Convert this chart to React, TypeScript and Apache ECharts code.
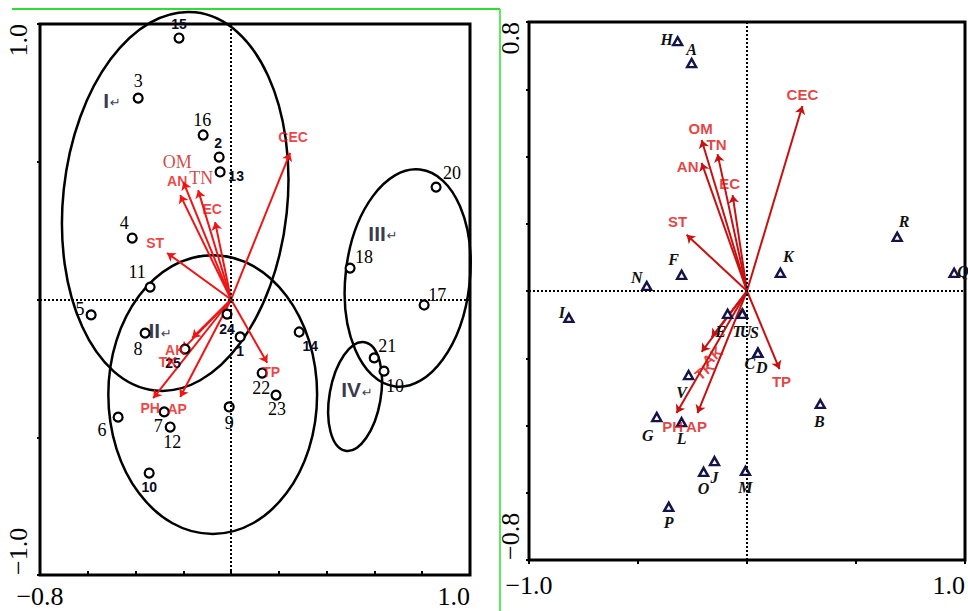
import React, { useEffect, useRef } from 'react';
import * as echarts from 'echarts';

// ---------- Left panel (sites) ----------
const siteNames = ['1', '2', '3', '4', '5', '6', '7', '8', '9', '10', '11', '12', '13', '14', '15', '16', '17', '18', '19', '20', '21', '22', '23', '24', '25'];
const siteLabels = ['1', '2', '3', '4', '5', '6', '7', '8', '9', '10', '11', '12', '13', '14', '15', '16', '17', '18', '10', '20', '21', '22', '23', '24', '25'];
const siteX = [0.038, -0.05, -0.389, -0.414, -0.586, -0.473, -0.28, -0.36, -0.008, -0.343, -0.339, -0.255, -0.046, 0.285, -0.218, -0.117, 0.808, 0.498, 0.64, 0.858, 0.599, 0.13, 0.188, -0.017, -0.193];
const siteY = [-0.136, 0.517, 0.731, 0.223, -0.056, -0.427, -0.408, -0.122, -0.39, -0.63, 0.045, -0.463, 0.463, -0.118, 0.949, 0.597, -0.02, 0.114, -0.26, 0.408, -0.212, -0.267, -0.347, -0.053, -0.18];
const boldSites = ['1', '2', '10', '13', '14', '15', '24', '25'];

const envNames = ['CEC', 'EC', 'TN', 'AN', 'OM', 'ST', 'TP', 'PH', 'AP', 'AK', 'TK'];
const envXLeft = [0.247, -0.067, -0.138, -0.213, -0.2, -0.268, 0.151, -0.326, -0.213, -0.163, -0.205];
const envYLeft = [0.532, 0.281, 0.397, 0.379, 0.427, 0.169, -0.23, -0.358, -0.354, -0.14, -0.183];

const groupNames = ['I', 'II', 'III', 'IV'];
const groupLabelX = [-0.498, -0.297, 0.636, 0.527];
const groupLabelY = [0.724, -0.114, 0.241, -0.328];
const ellipseCX = [-0.234, -0.077, 0.739, 0.519];
const ellipseCY = [0.356, -0.345, 0.078, -0.352];
const ellipseRX = [0.469, 0.437, 0.26, 0.107];
const ellipseRY = [0.69, 0.506, 0.396, 0.2];
const ellipseTilt = [6, 0, 6.5, 10];

// ---------- Right panel (samples) ----------
const sampleNames = ['A', 'B', 'C', 'D', 'E', 'F', 'G', 'H', 'I', 'J', 'K', 'L', 'M', 'N', 'O', 'P', 'Q', 'R', 'S', 'T', 'U', 'V'];
const sampleX = [-0.254, 0.336, 0.05, 0.05, -0.089, -0.3, -0.414, -0.318, -0.817, -0.149, 0.153, -0.3, -0.007, -0.46, -0.199, -0.359, 0.95, 0.689, -0.021, -0.021, -0.021, -0.268];
const sampleY = [0.678, -0.336, -0.184, -0.184, -0.068, 0.048, -0.375, 0.743, -0.08, -0.506, 0.054, -0.39, -0.535, 0.015, -0.538, -0.642, 0.054, 0.161, -0.068, -0.068, -0.068, -0.25];
const envXRight = [0.254, -0.066, -0.135, -0.208, -0.208, -0.277, 0.149, -0.323, -0.227, -0.162, -0.208];
const envYRight = [0.55, 0.285, 0.407, 0.381, 0.449, 0.167, -0.232, -0.363, -0.363, -0.137, -0.181];

// axis tick labels
const leftXLabels = ['−0.8', '1.0'];
const leftYLabels = ['−1.0', '1.0'];
const rightXLabels = ['−1.0', '1.0'];
const rightYLabels = ['−0.8', '0.8'];

// ---------- styling (pixel offsets of labels) ----------
const siteLabelOffset: Record<string, [number, number]> = {
  '1': [0, 14], '2': [-1, -14], '3': [0, -17], '4': [-8, -15], '5': [-11, -6], '6': [-16, 13], '7': [-6, 14],
  '8': [-7, 16], '9': [0, 16], '10': [0, 14], '11': [-13, -15], '12': [2, 15], '13': [16, 4], '14': [11, 14],
  '15': [0, -14], '16': [-1, -15], '17': [13, -10], '18': [14, -11], '19': [11, 15], '20': [16, -14],
  '21': [13, -12], '22': [-1, 15], '23': [1, 14], '24': [0, 15], '25': [-12, 14],
};
const envLeftOffset: Record<string, [number, number]> = {
  CEC: [3, -16], EC: [-3, -13], TN: [3, -12], AN: [-3, -14], OM: [-6, -20], ST: [-12, -10], TP: [4, 9],
  PH: [-3, 10], AP: [-3, 12], AK: [-17, 12], TK: [-14, 12],
};
const serifEnvLeft = ['OM', 'TN'];
const sampleLabelOffset: Record<string, [number, number]> = {
  A: [0, -14], B: [-1, 18], C: [-8, 11], D: [4, 15], E: [-7, 18], F: [-8, -15], G: [-9, 18], H: [-11, -2],
  I: [-7, -5], J: [0, 16], K: [8, -16], L: [0, 16], M: [0, 17], N: [-10, -8], O: [0, 17], P: [0, 16],
  Q: [9, -1], R: [7, -15], S: [12, 19], T: [-5, 18], U: [3, 18], V: [-7, 17],
};
const envRightOffset: Record<string, [number, number]> = {
  CEC: [0, -12], EC: [-3, -12], TN: [-1, -10], AN: [-14, 4], OM: [-1, -12], ST: [-9, -13], TP: [2, 12],
  PH: [-4, 13], AP: [-1, 13], AK: [-12, 15], TK: [-10, 16],
};
const rotatedEnvRight = ['AK', 'TK'];

const near = (a: number, b: number) => Math.abs(a - b) < 1e-6;

export default function App() {
  const ref = useRef<HTMLDivElement>(null);
  useEffect(() => {
    if (!ref.current) return;
    const chart = echarts.init(ref.current, undefined, { renderer: 'svg' });
    const serif = 'Liberation Serif';
    const sans = 'Liberation Sans';

    const zeroLines = {
      silent: true,
      symbol: 'none',
      label: { show: false },
      lineStyle: { color: '#000', type: [2, 2], width: 2 },
      data: [{ xAxis: 0 }, { yAxis: 0 }],
    };

    const axisLabelX = (labels: string[], min: number, max: number, margin: number) => ({
      formatter: (v: number) => (near(v, min) ? labels[0] : near(v, max) ? labels[1] : ''),
      fontFamily: serif,
      fontSize: 26,
      color: '#000',
      margin,
      showMinLabel: true,
      showMaxLabel: true,
      alignMaxLabel: 'right',
    });
    const axisLabelY = (labels: string[], min: number, max: number, margin: number) => ({
      formatter: (v: number) => (near(v, min) ? labels[0] : near(v, max) ? labels[1] : ''),
      fontFamily: serif,
      fontSize: 26,
      color: '#000',
      rotate: 90,
      margin,
      showMinLabel: true,
      showMaxLabel: true,
      alignMaxLabel: 'right',
      alignMinLabel: 'left',
    });
    const noLine = { show: false, onZero: false };

    const option: any = {
      animation: false,
      backgroundColor: '#fff',
      grid: [
        { left: 40, top: 24, width: 430, height: 551, show: true, borderColor: '#000', borderWidth: 3 },
        { left: 529, top: 22, width: 437, height: 538, show: true, borderColor: '#000', borderWidth: 3 },
      ],
      xAxis: [
        {
          gridIndex: 0, type: 'value', min: -0.8, max: 1.0, interval: 0.2, position: 'bottom',
          axisLine: noLine, splitLine: { show: false },
          axisTick: { show: true, inside: true, length: 4, lineStyle: { color: '#000', width: 2 } },
          axisLabel: axisLabelX(leftXLabels, -0.8, 1.0, 8),
        },
        {
          gridIndex: 1, type: 'value', min: -1.0, max: 1.0, interval: 0.5, position: 'bottom',
          axisLine: noLine, splitLine: { show: false },
          axisTick: { show: true, length: 4, lineStyle: { color: '#000', width: 2 } },
          axisLabel: axisLabelX(rightXLabels, -1.0, 1.0, 12),
        },
      ],
      yAxis: [
        {
          gridIndex: 0, type: 'value', min: -1.0, max: 1.0, interval: 0.5, position: 'left',
          axisLine: noLine, splitLine: { show: false },
          axisTick: { show: true, length: 3, lineStyle: { color: '#000', width: 2 } },
          axisLabel: axisLabelY(leftYLabels, -1.0, 1.0, 9),
        },
        {
          gridIndex: 1, type: 'value', min: -0.8, max: 0.8, interval: 0.2, position: 'left',
          axisLine: noLine, splitLine: { show: false },
          axisTick: { show: true, length: 3, lineStyle: { color: '#000', width: 2 } },
          axisLabel: axisLabelY(rightYLabels, -0.8, 0.8, 6),
        },
      ],
      graphic: [
        { type: 'line', shape: { x1: 12, y1: 9, x2: 500, y2: 9 }, style: { stroke: '#2fdc2f', lineWidth: 2 }, z: 100 },
        { type: 'line', shape: { x1: 500, y1: 9, x2: 500, y2: 611 }, style: { stroke: '#5ee85e', lineWidth: 2 }, z: 100 },
      ],
      series: [
        // ellipses
        {
          type: 'custom',
          xAxisIndex: 0,
          yAxisIndex: 0,
          silent: true,
          z: 1,
          data: ellipseCX.map((cx, i) => [cx, ellipseCY[i], ellipseRX[i], ellipseRY[i], ellipseTilt[i]]),
          renderItem: (params: any, api: any) => {
            const c = api.coord([api.value(0), api.value(1)]);
            const s = api.size([api.value(2), api.value(3)]);
            return {
              type: 'ellipse',
              x: c[0],
              y: c[1],
              rotation: (-api.value(4) * Math.PI) / 180,
              shape: { cx: 0, cy: 0, rx: s[0], ry: s[1] },
              style: { fill: 'none', stroke: '#000', lineWidth: 2.5 },
            };
          },
        },
        // left arrows
        {
          type: 'lines',
          coordinateSystem: 'cartesian2d',
          xAxisIndex: 0,
          yAxisIndex: 0,
          silent: true,
          z: 3,
          symbol: ['none', 'arrow'],
          symbolSize: 8,
          lineStyle: { color: '#f01414', width: 2, opacity: 1, curveness: 0 },
          data: envNames.map((n, i) => ({ name: n, coords: [[0, 0], [envXLeft[i], envYLeft[i]]] })),
        },
        // left sites
        {
          type: 'scatter',
          xAxisIndex: 0,
          yAxisIndex: 0,
          z: 4,
          symbol: 'circle',
          symbolSize: 9,
          itemStyle: { color: '#fff', borderColor: '#000', borderWidth: 2.2, opacity: 1 },
          markLine: zeroLines,
          data: siteNames.map((n, i) => {
            const bold = boldSites.includes(siteLabels[i]) && n !== '19';
            return {
              name: n,
              value: [siteX[i], siteY[i]],
              label: {
                show: true,
                position: 'inside',
                formatter: siteLabels[i],
                offset: siteLabelOffset[n],
                fontFamily: bold ? sans : serif,
                fontWeight: bold ? 'bold' : 'normal',
                fontSize: bold ? 14 : 18,
                color: bold ? '#0b0b22' : '#000',
              },
            };
          }),
        },
        // left env labels
        {
          type: 'scatter',
          xAxisIndex: 0,
          yAxisIndex: 0,
          z: 5,
          silent: true,
          symbol: 'circle',
          symbolSize: 0.1,
          itemStyle: { color: 'transparent' },
          data: envNames.map((n, i) => {
            const isSerif = serifEnvLeft.includes(n);
            return {
              name: n,
              value: [envXLeft[i], envYLeft[i]],
              label: {
                show: true,
                position: 'inside',
                formatter: n,
                offset: envLeftOffset[n],
                fontFamily: isSerif ? serif : sans,
                fontWeight: isSerif ? 'normal' : 'bold',
                fontSize: isSerif ? 18 : 14,
                color: isSerif ? '#c81515' : '#ee1111',
              },
            };
          }),
        },
        // group labels
        {
          type: 'scatter',
          xAxisIndex: 0,
          yAxisIndex: 0,
          z: 5,
          silent: true,
          symbol: 'circle',
          symbolSize: 0.1,
          itemStyle: { color: 'transparent' },
          data: groupNames.map((n, i) => ({
            name: n,
            value: [groupLabelX[i], groupLabelY[i]],
            label: {
              show: true,
              position: 'inside',
              formatter: `{r|${n}}{a|↵}`,
              rich: {
                r: { fontFamily: sans, fontWeight: 'bold', fontSize: 21, color: '#05051a' },
                a: { fontFamily: 'DejaVu Sans', fontSize: 13, color: '#05051a', padding: [5, 0, 0, 1] },
              },
            },
          })),
        },
        // right arrows
        {
          type: 'lines',
          coordinateSystem: 'cartesian2d',
          xAxisIndex: 1,
          yAxisIndex: 1,
          silent: true,
          z: 3,
          symbol: ['none', 'arrow'],
          symbolSize: 8,
          lineStyle: { color: '#c81010', width: 2, opacity: 1, curveness: 0 },
          data: envNames.map((n, i) => ({ name: n, coords: [[0, 0], [envXRight[i], envYRight[i]]] })),
        },
        // right samples
        {
          type: 'scatter',
          xAxisIndex: 1,
          yAxisIndex: 1,
          z: 4,
          symbol: 'triangle',
          symbolSize: [9, 8],
          itemStyle: { color: '#fff', borderColor: '#14144a', borderWidth: 2.4, opacity: 1 },
          markLine: zeroLines,
          data: sampleNames.map((n, i) => ({
            name: n,
            value: [sampleX[i], sampleY[i]],
            label: {
              show: true,
              position: 'inside',
              formatter: n,
              offset: sampleLabelOffset[n],
              fontFamily: serif,
              fontStyle: 'italic',
              fontWeight: 'bold',
              fontSize: 16,
              color: '#111',
            },
          })),
        },
        // right env labels
        {
          type: 'scatter',
          xAxisIndex: 1,
          yAxisIndex: 1,
          z: 5,
          silent: true,
          symbol: 'circle',
          symbolSize: 0.1,
          itemStyle: { color: 'transparent' },
          data: envNames.map((n, i) => ({
            name: n,
            value: [envXRight[i], envYRight[i]],
            label: {
              show: true,
              position: 'inside',
              formatter: n,
              offset: envRightOffset[n],
              rotate: rotatedEnvRight.includes(n) ? 40 : 0,
              fontFamily: sans,
              fontWeight: 'bold',
              fontSize: 15,
              color: '#dd1111',
            },
          })),
        },
      ],
    };
    chart.setOption(option);
    return () => chart.dispose();
  }, []);
  return <div ref={ref} style={{ position: 'fixed', left: 0, top: 0, width: 968, height: 611, background: '#fff' }} />;
}
